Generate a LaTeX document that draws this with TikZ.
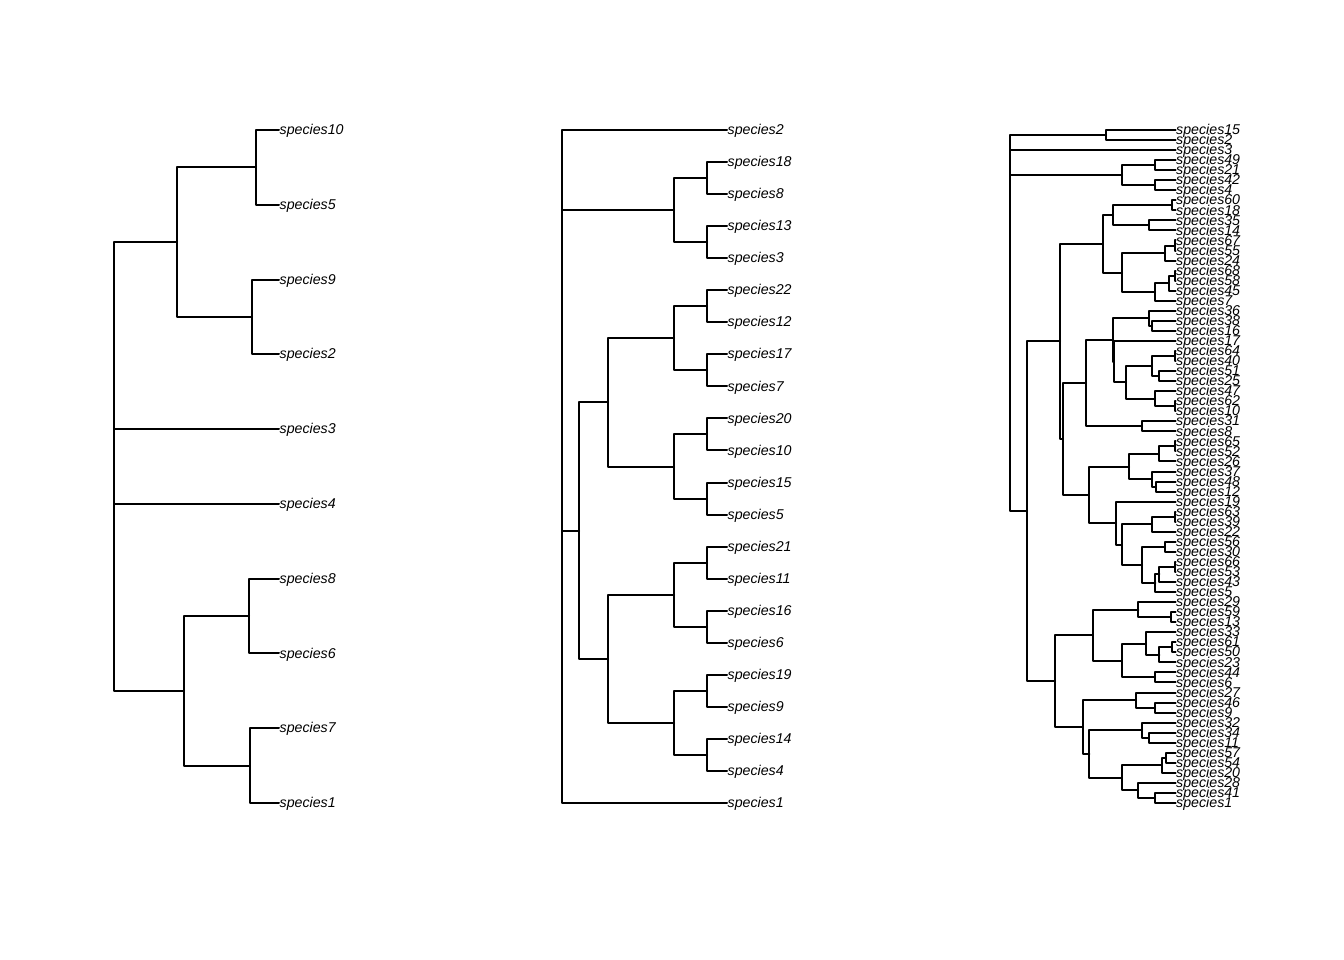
\documentclass[tikz,border=0pt]{standalone}
\usepackage{fontspec}
\newfontfamily\labfont{Liberation Sans}
\usetikzlibrary{calc}
\tikzset{
  branch/.style={line width=2pt, line cap=round, line join=round, black},
  lab/.style={anchor=mid west, inner sep=0pt, xshift=0.5pt, yshift=-2.5pt,
    font=\labfont\itshape\fontsize{14.2}{17}\selectfont},
}
% tip: name, x, index from the top, tip spacing, label
\newcommand\tipat[5]{%
  \coordinate (#1) at (#2, {130+(#3-1)*#4});
  \node[lab] (#1l) at (#1) {#5};}
% internal node: name, x, upper child, lower child (y = mean of the children)
\newcommand\inode[4]{%
  \path let \p1=(#3), \p2=(#4) in (#2pt, {(\y1+\y2)/2}) coordinate (#1);
  \draw[branch] (#3) -| (#1) |- (#4);}
\begin{document}
\begin{tikzpicture}[x=1pt, y=-1pt]
\useasboundingbox[fill=white] (0,0) rectangle (1344,960);

% ---------- tree with 10 tips ----------
\def\sa{74.778}
\tipat{a10}{279}{1}{\sa}{species10}
\tipat{a5}{279}{2}{\sa}{species5}
\tipat{a9}{279}{3}{\sa}{species9}
\tipat{a2}{279}{4}{\sa}{species2}
\tipat{a3}{279}{5}{\sa}{species3}
\tipat{a4}{279}{6}{\sa}{species4}
\tipat{a8}{279}{7}{\sa}{species8}
\tipat{a6}{279}{8}{\sa}{species6}
\tipat{a7}{279}{9}{\sa}{species7}
\tipat{a1}{279}{10}{\sa}{species1}
\inode{aN10}{256}{a10}{a5}
\inode{aN9}{252}{a9}{a2}
\inode{aA}{177}{aN10}{aN9}
\inode{aN8}{249}{a8}{a6}
\inode{aN7}{249.5}{a7}{a1}
\inode{aB}{184}{aN8}{aN7}
\inode{aR3}{114}{a4}{aB}
\inode{aR2}{114}{a3}{aR3}
\inode{aR1}{114}{aA}{aR2}

% ---------- tree with 22 tips ----------
\def\sb{32.048}
\tipat{b2}{727}{1}{\sb}{species2}
\tipat{b18}{727}{2}{\sb}{species18}
\tipat{b8}{727}{3}{\sb}{species8}
\tipat{b13}{727}{4}{\sb}{species13}
\tipat{b3}{727}{5}{\sb}{species3}
\tipat{b22}{727}{6}{\sb}{species22}
\tipat{b12}{727}{7}{\sb}{species12}
\tipat{b17}{727}{8}{\sb}{species17}
\tipat{b7}{727}{9}{\sb}{species7}
\tipat{b20}{727}{10}{\sb}{species20}
\tipat{b10}{727}{11}{\sb}{species10}
\tipat{b15}{727}{12}{\sb}{species15}
\tipat{b5}{727}{13}{\sb}{species5}
\tipat{b21}{727}{14}{\sb}{species21}
\tipat{b11}{727}{15}{\sb}{species11}
\tipat{b16}{727}{16}{\sb}{species16}
\tipat{b6}{727}{17}{\sb}{species6}
\tipat{b19}{727}{18}{\sb}{species19}
\tipat{b9}{727}{19}{\sb}{species9}
\tipat{b14}{727}{20}{\sb}{species14}
\tipat{b4}{727}{21}{\sb}{species4}
\tipat{b1}{727}{22}{\sb}{species1}
\inode{bN18}{707}{b18}{b8}
\inode{bN13}{707}{b13}{b3}
\inode{bP}{674}{bN18}{bN13}
\inode{bN22}{707}{b22}{b12}
\inode{bN17}{707}{b17}{b7}
\inode{bQ11}{674}{bN22}{bN17}
\inode{bN20}{707}{b20}{b10}
\inode{bN15}{707}{b15}{b5}
\inode{bQ12}{674}{bN20}{bN15}
\inode{bQ1}{608}{bQ11}{bQ12}
\inode{bN21}{707}{b21}{b11}
\inode{bN16}{707}{b16}{b6}
\inode{bQ21}{674}{bN21}{bN16}
\inode{bN19}{707}{b19}{b9}
\inode{bN14}{707}{b14}{b4}
\inode{bQ22}{674}{bN19}{bN14}
\inode{bQ2}{608}{bQ21}{bQ22}
\inode{bQ}{579}{bQ1}{bQ2}
\inode{bR3}{562}{bQ}{b1}
\inode{bR2}{562}{bP}{bR3}
\inode{bR1}{562}{b2}{bR2}

% ---------- tree with 68 tips ----------
\def\sc{10.045}
\def\tx{1175.5}
\tipat{c15}{\tx}{1}{\sc}{species15}
\tipat{c2}{\tx}{2}{\sc}{species2}
\tipat{c3}{\tx}{3}{\sc}{species3}
\tipat{c49}{\tx}{4}{\sc}{species49}
\tipat{c21}{\tx}{5}{\sc}{species21}
\tipat{c42}{\tx}{6}{\sc}{species42}
\tipat{c4}{\tx}{7}{\sc}{species4}
\tipat{c60}{\tx}{8}{\sc}{species60}
\tipat{c18}{\tx}{9}{\sc}{species18}
\tipat{c35}{\tx}{10}{\sc}{species35}
\tipat{c14}{\tx}{11}{\sc}{species14}
\tipat{c67}{\tx}{12}{\sc}{species67}
\tipat{c55}{\tx}{13}{\sc}{species55}
\tipat{c24}{\tx}{14}{\sc}{species24}
\tipat{c68}{\tx}{15}{\sc}{species68}
\tipat{c58}{\tx}{16}{\sc}{species58}
\tipat{c45}{\tx}{17}{\sc}{species45}
\tipat{c7}{\tx}{18}{\sc}{species7}
\tipat{c36}{\tx}{19}{\sc}{species36}
\tipat{c38}{\tx}{20}{\sc}{species38}
\tipat{c16}{\tx}{21}{\sc}{species16}
\tipat{c17}{\tx}{22}{\sc}{species17}
\tipat{c64}{\tx}{23}{\sc}{species64}
\tipat{c40}{\tx}{24}{\sc}{species40}
\tipat{c51}{\tx}{25}{\sc}{species51}
\tipat{c25}{\tx}{26}{\sc}{species25}
\tipat{c47}{\tx}{27}{\sc}{species47}
\tipat{c62}{\tx}{28}{\sc}{species62}
\tipat{c10}{\tx}{29}{\sc}{species10}
\tipat{c31}{\tx}{30}{\sc}{species31}
\tipat{c8}{\tx}{31}{\sc}{species8}
\tipat{c65}{\tx}{32}{\sc}{species65}
\tipat{c52}{\tx}{33}{\sc}{species52}
\tipat{c26}{\tx}{34}{\sc}{species26}
\tipat{c37}{\tx}{35}{\sc}{species37}
\tipat{c48}{\tx}{36}{\sc}{species48}
\tipat{c12}{\tx}{37}{\sc}{species12}
\tipat{c19}{\tx}{38}{\sc}{species19}
\tipat{c63}{\tx}{39}{\sc}{species63}
\tipat{c39}{\tx}{40}{\sc}{species39}
\tipat{c22}{\tx}{41}{\sc}{species22}
\tipat{c56}{\tx}{42}{\sc}{species56}
\tipat{c30}{\tx}{43}{\sc}{species30}
\tipat{c66}{\tx}{44}{\sc}{species66}
\tipat{c53}{\tx}{45}{\sc}{species53}
\tipat{c43}{\tx}{46}{\sc}{species43}
\tipat{c5}{\tx}{47}{\sc}{species5}
\tipat{c29}{\tx}{48}{\sc}{species29}
\tipat{c59}{\tx}{49}{\sc}{species59}
\tipat{c13}{\tx}{50}{\sc}{species13}
\tipat{c33}{\tx}{51}{\sc}{species33}
\tipat{c61}{\tx}{52}{\sc}{species61}
\tipat{c50}{\tx}{53}{\sc}{species50}
\tipat{c23}{\tx}{54}{\sc}{species23}
\tipat{c44}{\tx}{55}{\sc}{species44}
\tipat{c6}{\tx}{56}{\sc}{species6}
\tipat{c27}{\tx}{57}{\sc}{species27}
\tipat{c46}{\tx}{58}{\sc}{species46}
\tipat{c9}{\tx}{59}{\sc}{species9}
\tipat{c32}{\tx}{60}{\sc}{species32}
\tipat{c34}{\tx}{61}{\sc}{species34}
\tipat{c11}{\tx}{62}{\sc}{species11}
\tipat{c57}{\tx}{63}{\sc}{species57}
\tipat{c54}{\tx}{64}{\sc}{species54}
\tipat{c20}{\tx}{65}{\sc}{species20}
\tipat{c28}{\tx}{66}{\sc}{species28}
\tipat{c41}{\tx}{67}{\sc}{species41}
\tipat{c1}{\tx}{68}{\sc}{species1}
% top clades
\inode{cN15}{1106}{c15}{c2}
\inode{cN49}{1155}{c49}{c21}
\inode{cN42}{1155}{c42}{c4}
\inode{cH}{1122}{cN49}{cN42}
% clade D
\inode{cN60}{1172}{c60}{c18}
\inode{cN35}{1149}{c35}{c14}
\inode{cD1}{1113}{cN60}{cN35}
\inode{cN67}{1174.5}{c67}{c55}
\inode{cJ1}{1165}{cN67}{c24}
\inode{cN68}{1174.5}{c68}{c58}
\inode{cN68b}{1169}{cN68}{c45}
\inode{cJ2}{1155}{cN68b}{c7}
\inode{cD2}{1122}{cJ1}{cJ2}
\inode{cD}{1102.5}{cD1}{cD2}
% clade E
\inode{cN38}{1152}{c38}{c16}
\inode{cG}{1149}{c36}{cN38}
\inode{cN64}{1174.5}{c64}{c40}
\inode{cN51}{1159}{c51}{c25}
\inode{cF1}{1152}{cN64}{cN51}
\inode{cN62}{1174.5}{c62}{c10}
\inode{cF2}{1155}{c47}{cN62}
\inode{cF}{1126}{cF1}{cF2}
\inode{cY}{1113.5}{c17}{cF}
\inode{cE1}{1113}{cG}{cY}
\inode{cN31}{1142}{c31}{c8}
\inode{cE}{1086}{cE1}{cN31}
% clade L
\inode{cN65}{1174.5}{c65}{c52}
\inode{cN65b}{1158.8}{cN65}{c26}
\inode{cN48}{1155.5}{c48}{c12}
\inode{cN37}{1151.7}{c37}{cN48}
\inode{cL1}{1129}{cN65b}{cN37}
\inode{cN63}{1174.5}{c63}{c39}
\inode{cM1}{1151.7}{cN63}{c22}
\inode{cN56}{1165}{c56}{c30}
\inode{cN66}{1174.5}{c66}{c53}
\inode{cN66b}{1159.3}{cN66}{c43}
\inode{cM3}{1155.3}{cN66b}{c5}
\inode{cM2}{1142}{cN56}{cM3}
\inode{cM}{1121.7}{cM1}{cM2}
\inode{cL2}{1116}{c19}{cM}
\inode{cL}{1088.7}{cL1}{cL2}
\inode{cC}{1062.7}{cE}{cL}
\inode{cB}{1060}{cD}{cC}
% clade K
\inode{cN59}{1171}{c59}{c13}
\inode{cK11}{1138.3}{c29}{cN59}
\inode{cN61}{1171.7}{c61}{c50}
\inode{cN61b}{1159.3}{cN61}{c23}
\inode{cK121}{1146}{c33}{cN61b}
\inode{cN44}{1155}{c44}{c6}
\inode{cK12}{1121.7}{cK121}{cN44}
\inode{cK1}{1092.7}{cK11}{cK12}
\inode{cN46}{1155}{c46}{c9}
\inode{cK21}{1135.5}{c27}{cN46}
\inode{cN34}{1148.8}{c34}{c11}
\inode{cK221}{1142}{c32}{cN34}
\inode{cN57}{1165.5}{c57}{c54}
\inode{cK2221}{1161.5}{cN57}{c20}
\inode{cN41}{1155}{c41}{c1}
\inode{cK2222}{1138}{c28}{cN41}
\inode{cK222}{1121.7}{cK2221}{cK2222}
\inode{cK22}{1089.3}{cK221}{cK222}
\inode{cK2}{1082.7}{cK21}{cK22}
\inode{cK}{1055}{cK1}{cK2}
\inode{cZ}{1027}{cB}{cK}
% root
\inode{cR3}{1010}{cH}{cZ}
\inode{cR2}{1010}{c3}{cR3}
\inode{cR1}{1010}{cN15}{cR2}
\end{tikzpicture}
\end{document}
